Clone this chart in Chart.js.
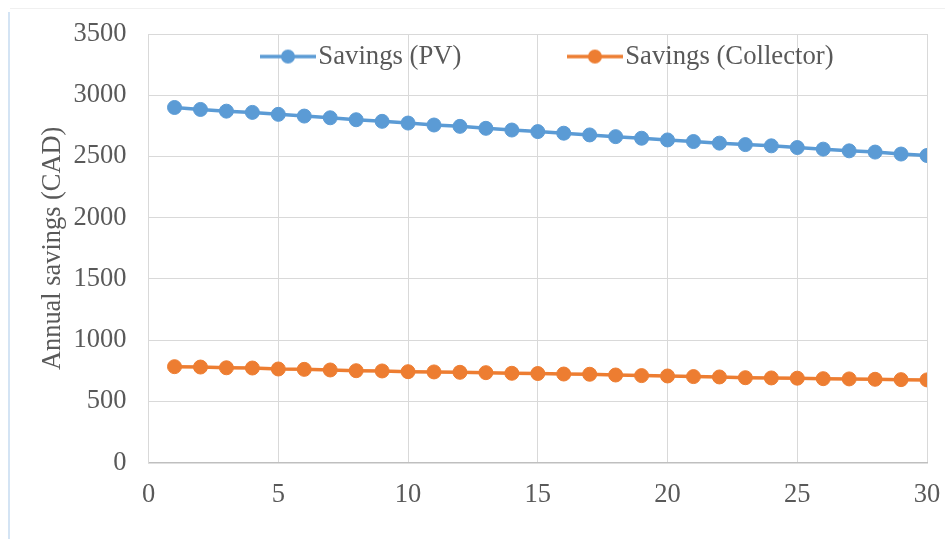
<!DOCTYPE html>
<html>
<head>
<meta charset="utf-8">
<script src="https://cdn.jsdelivr.net/npm/chart.js@4.4.0/dist/chart.umd.min.js"></script>
<style>
  html, body { margin: 0; padding: 0; background: #fff; }
  #wrap { position: relative; width: 945px; height: 539px; }
  #frameTop { position: absolute; left: 10px; top: 8px; right: 0; height: 1px; background: #f0f0f0; }
  #frameLeft { position: absolute; left: 8px; top: 12px; bottom: 0; width: 2px; background: #d4e4f4; }
</style>
</head>
<body>
<div id="wrap">
  <div id="frameTop"></div>
  <div id="frameLeft"></div>
  <canvas id="chart"></canvas>
</div>
<script>
const years = [1, 2, 3, 4, 5, 6, 7, 8, 9, 10, 11, 12, 13, 14, 15,
  16, 17, 18, 19, 20, 21, 22, 23, 24, 25, 26, 27, 28, 29, 30];
const savingsPV = [2900, 2884, 2870, 2860, 2844, 2830, 2816, 2800, 2787, 2773,
  2757, 2746, 2730, 2716, 2703, 2690, 2676, 2662, 2649, 2635,
  2622, 2609, 2597, 2587, 2573, 2560, 2546, 2536, 2520, 2508];
const savingsCollector = [784, 781, 775, 773, 765, 762, 757, 751, 749, 743,
  741, 738, 735, 730, 728, 724, 722, 716, 711, 708,
  703, 700, 694, 692, 690, 686, 684, 681, 678, 676];
const seriesNames = ["Savings (PV)", "Savings (Collector)"];
const xTicks = [0, 5, 10, 15, 20, 25, 30];
const yTicks = [0, 500, 1000, 1500, 2000, 2500, 3000, 3500];

const blue = "#5B9BD5";
const orange = "#ED7D31";
const textColor = "#595959";
const fontFam = "'Liberation Serif', 'Times New Roman', serif";

// legend marker: short line with a dot, like the spreadsheet legend
function marker(color) {
  const c = document.createElement("canvas");
  c.width = 56;
  c.height = 18;
  const g = c.getContext("2d");
  g.strokeStyle = color;
  g.lineWidth = 3.5;
  g.beginPath();
  g.moveTo(0, 9);
  g.lineTo(56, 9);
  g.stroke();
  g.fillStyle = color;
  g.beginPath();
  g.arc(28, 9, 7, 0, Math.PI * 2);
  g.fill();
  return c;
}
const markers = [marker(blue), marker(orange)];

const toPoints = vals => years.map((x, i) => ({ x: x, y: vals[i] }));

const LEG_PAD = 116.5;
// put the legend inside the plot area, near its top
const legendInside = {
  id: "legendInside",
  afterLayout(chart) {
    const lg = chart.legend;
    lg.left = 271 - LEG_PAD;
    lg.right = chart.width + 400;
    lg.top = 43.2 - LEG_PAD;
    lg.bottom = 80;
    lg.width = lg.right - lg.left;
    lg.height = lg.bottom - lg.top;
  }
};

const ctx = document.getElementById("chart").getContext("2d");
new Chart(ctx, {
  type: "line",
  data: {
    datasets: [
      {
        label: seriesNames[0],
        data: toPoints(savingsPV),
        borderColor: blue,
        backgroundColor: blue,
        borderWidth: 3.5,
        pointRadius: 7,
        pointBorderWidth: 1,
        pointBackgroundColor: blue,
        pointBorderColor: blue,
        tension: 0
      },
      {
        label: seriesNames[1],
        data: toPoints(savingsCollector),
        borderColor: orange,
        backgroundColor: orange,
        borderWidth: 3.5,
        pointRadius: 7,
        pointBorderWidth: 1,
        pointBackgroundColor: orange,
        pointBorderColor: orange,
        tension: 0
      }
    ]
  },
  options: {
    responsive: true,
    maintainAspectRatio: false,
    animation: false,
    layout: { padding: { left: 33.5, right: 18, top: 33, bottom: 26.5 } },
    plugins: {
      tooltip: { enabled: false },
      legend: {
        position: "top",
        align: "start",
        maxHeight: 1,
        labels: {
          usePointStyle: true,
          pointStyleWidth: 34,
          padding: LEG_PAD,
          color: textColor,
          font: { family: fontFam, size: 26.7 },
          generateLabels(chart) {
            const items = Chart.defaults.plugins.legend.labels.generateLabels(chart);
            items.forEach((it, i) => { it.pointStyle = markers[i]; });
            return items;
          }
        }
      }
    },
    scales: {
      x: {
        type: "linear",
        min: xTicks[0],
        max: xTicks[xTicks.length - 1],
        afterBuildTicks(axis) { axis.ticks = xTicks.map(v => ({ value: v })); },
        grid: { color: "#D9D9D9", lineWidth: 1, drawTicks: true, tickLength: 14, tickColor: "rgba(0,0,0,0)" },
        border: { color: "#BFBFBF", width: 1.5 },
        ticks: { color: textColor, padding: 2, font: { family: fontFam, size: 26.5 } }
      },
      y: {
        min: yTicks[0],
        max: yTicks[yTicks.length - 1],
        afterBuildTicks(axis) { axis.ticks = yTicks.map(v => ({ value: v })); },
        grid: { color: "#D9D9D9", lineWidth: 1, drawTicks: true, tickLength: 20, tickColor: "rgba(0,0,0,0)" },
        border: { color: "#D9D9D9", width: 1 },
        ticks: {
          color: textColor,
          padding: 2,
          font: { family: fontFam, size: 26.5 },
          callback: v => String(v)
        },
        title: {
          display: true,
          text: "Annual savings (CAD)",
          color: textColor,
          padding: { top: 4, bottom: 2.4 },
          font: { family: fontFam, size: 26.4 }
        }
      }
    }
  },
  plugins: [legendInside]
});
</script>
</body>
</html>
